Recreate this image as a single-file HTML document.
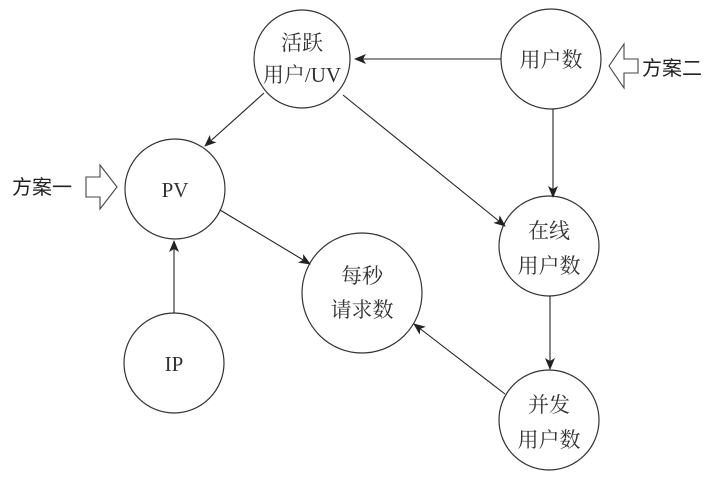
<!DOCTYPE html>
<html><head><meta charset="utf-8"><style>
html,body{margin:0;padding:0;background:#fff;}
svg{display:block;}
.n{font-family:"Liberation Serif","Noto Serif CJK SC",serif;font-size:21px;fill:#333;text-anchor:middle;}
.s{font-family:"Liberation Sans","Noto Sans CJK SC",sans-serif;font-size:20px;fill:#222;}
</style></head><body>
<svg width="716" height="480" viewBox="0 0 716 480" xmlns="http://www.w3.org/2000/svg">
<defs><marker id="a" markerWidth="12" markerHeight="10" refX="11" refY="5" orient="auto" markerUnits="userSpaceOnUse"><path d="M0,0 L12,5 L0,10 L3,5 Z" fill="#222"/></marker></defs>
<g fill="none" stroke="#333" stroke-width="1.2">
<ellipse cx="302" cy="59" rx="48" ry="49"/>
<ellipse cx="551" cy="59" rx="50" ry="50"/>
<ellipse cx="175" cy="189" rx="50" ry="50"/>
<ellipse cx="362" cy="293" rx="60" ry="60"/>
<ellipse cx="174" cy="363" rx="50" ry="50"/>
<ellipse cx="549" cy="246" rx="50" ry="50"/>
<ellipse cx="549" cy="420" rx="50" ry="50"/>
</g>
<g stroke="#222" stroke-width="1.1" marker-end="url(#a)">
<line x1="501" y1="59" x2="355" y2="59"/>
<line x1="264" y1="93" x2="205" y2="146"/>
<line x1="343" y1="95" x2="505" y2="226"/>
<line x1="553" y1="109" x2="553" y2="197"/>
<line x1="220" y1="210" x2="310" y2="264"/>
<line x1="174" y1="313" x2="174" y2="241"/>
<line x1="550" y1="296" x2="550" y2="369"/>
<line x1="505" y1="394" x2="414" y2="324"/>
</g>
<path d="M86,177 H100 V165 L117,187 L100,209 V197 H86 Z" fill="#fff" stroke="#444" stroke-width="1.1"/>
<path d="M638,59 H624 V44 L609,66 L624,88 V73 H638 Z" fill="#fff" stroke="#444" stroke-width="1.1"/>
<text class="s" x="12" y="194">方案一</text>
<text class="s" x="642" y="75">方案二</text>
<text class="n" x="302" y="50">活跃</text>
<text class="n" x="302" y="82">用户/UV</text>
<text class="n" x="551" y="67">用户数</text>
<text class="n" x="175" y="197">PV</text>
<text class="n" x="362" y="283">每秒</text>
<text class="n" x="362" y="317">请求数</text>
<text class="n" x="174" y="371">IP</text>
<text class="n" x="549" y="238">在线</text>
<text class="n" x="549" y="273">用户数</text>
<text class="n" x="549" y="412">并发</text>
<text class="n" x="549" y="447">用户数</text>
</svg>
</body></html>
